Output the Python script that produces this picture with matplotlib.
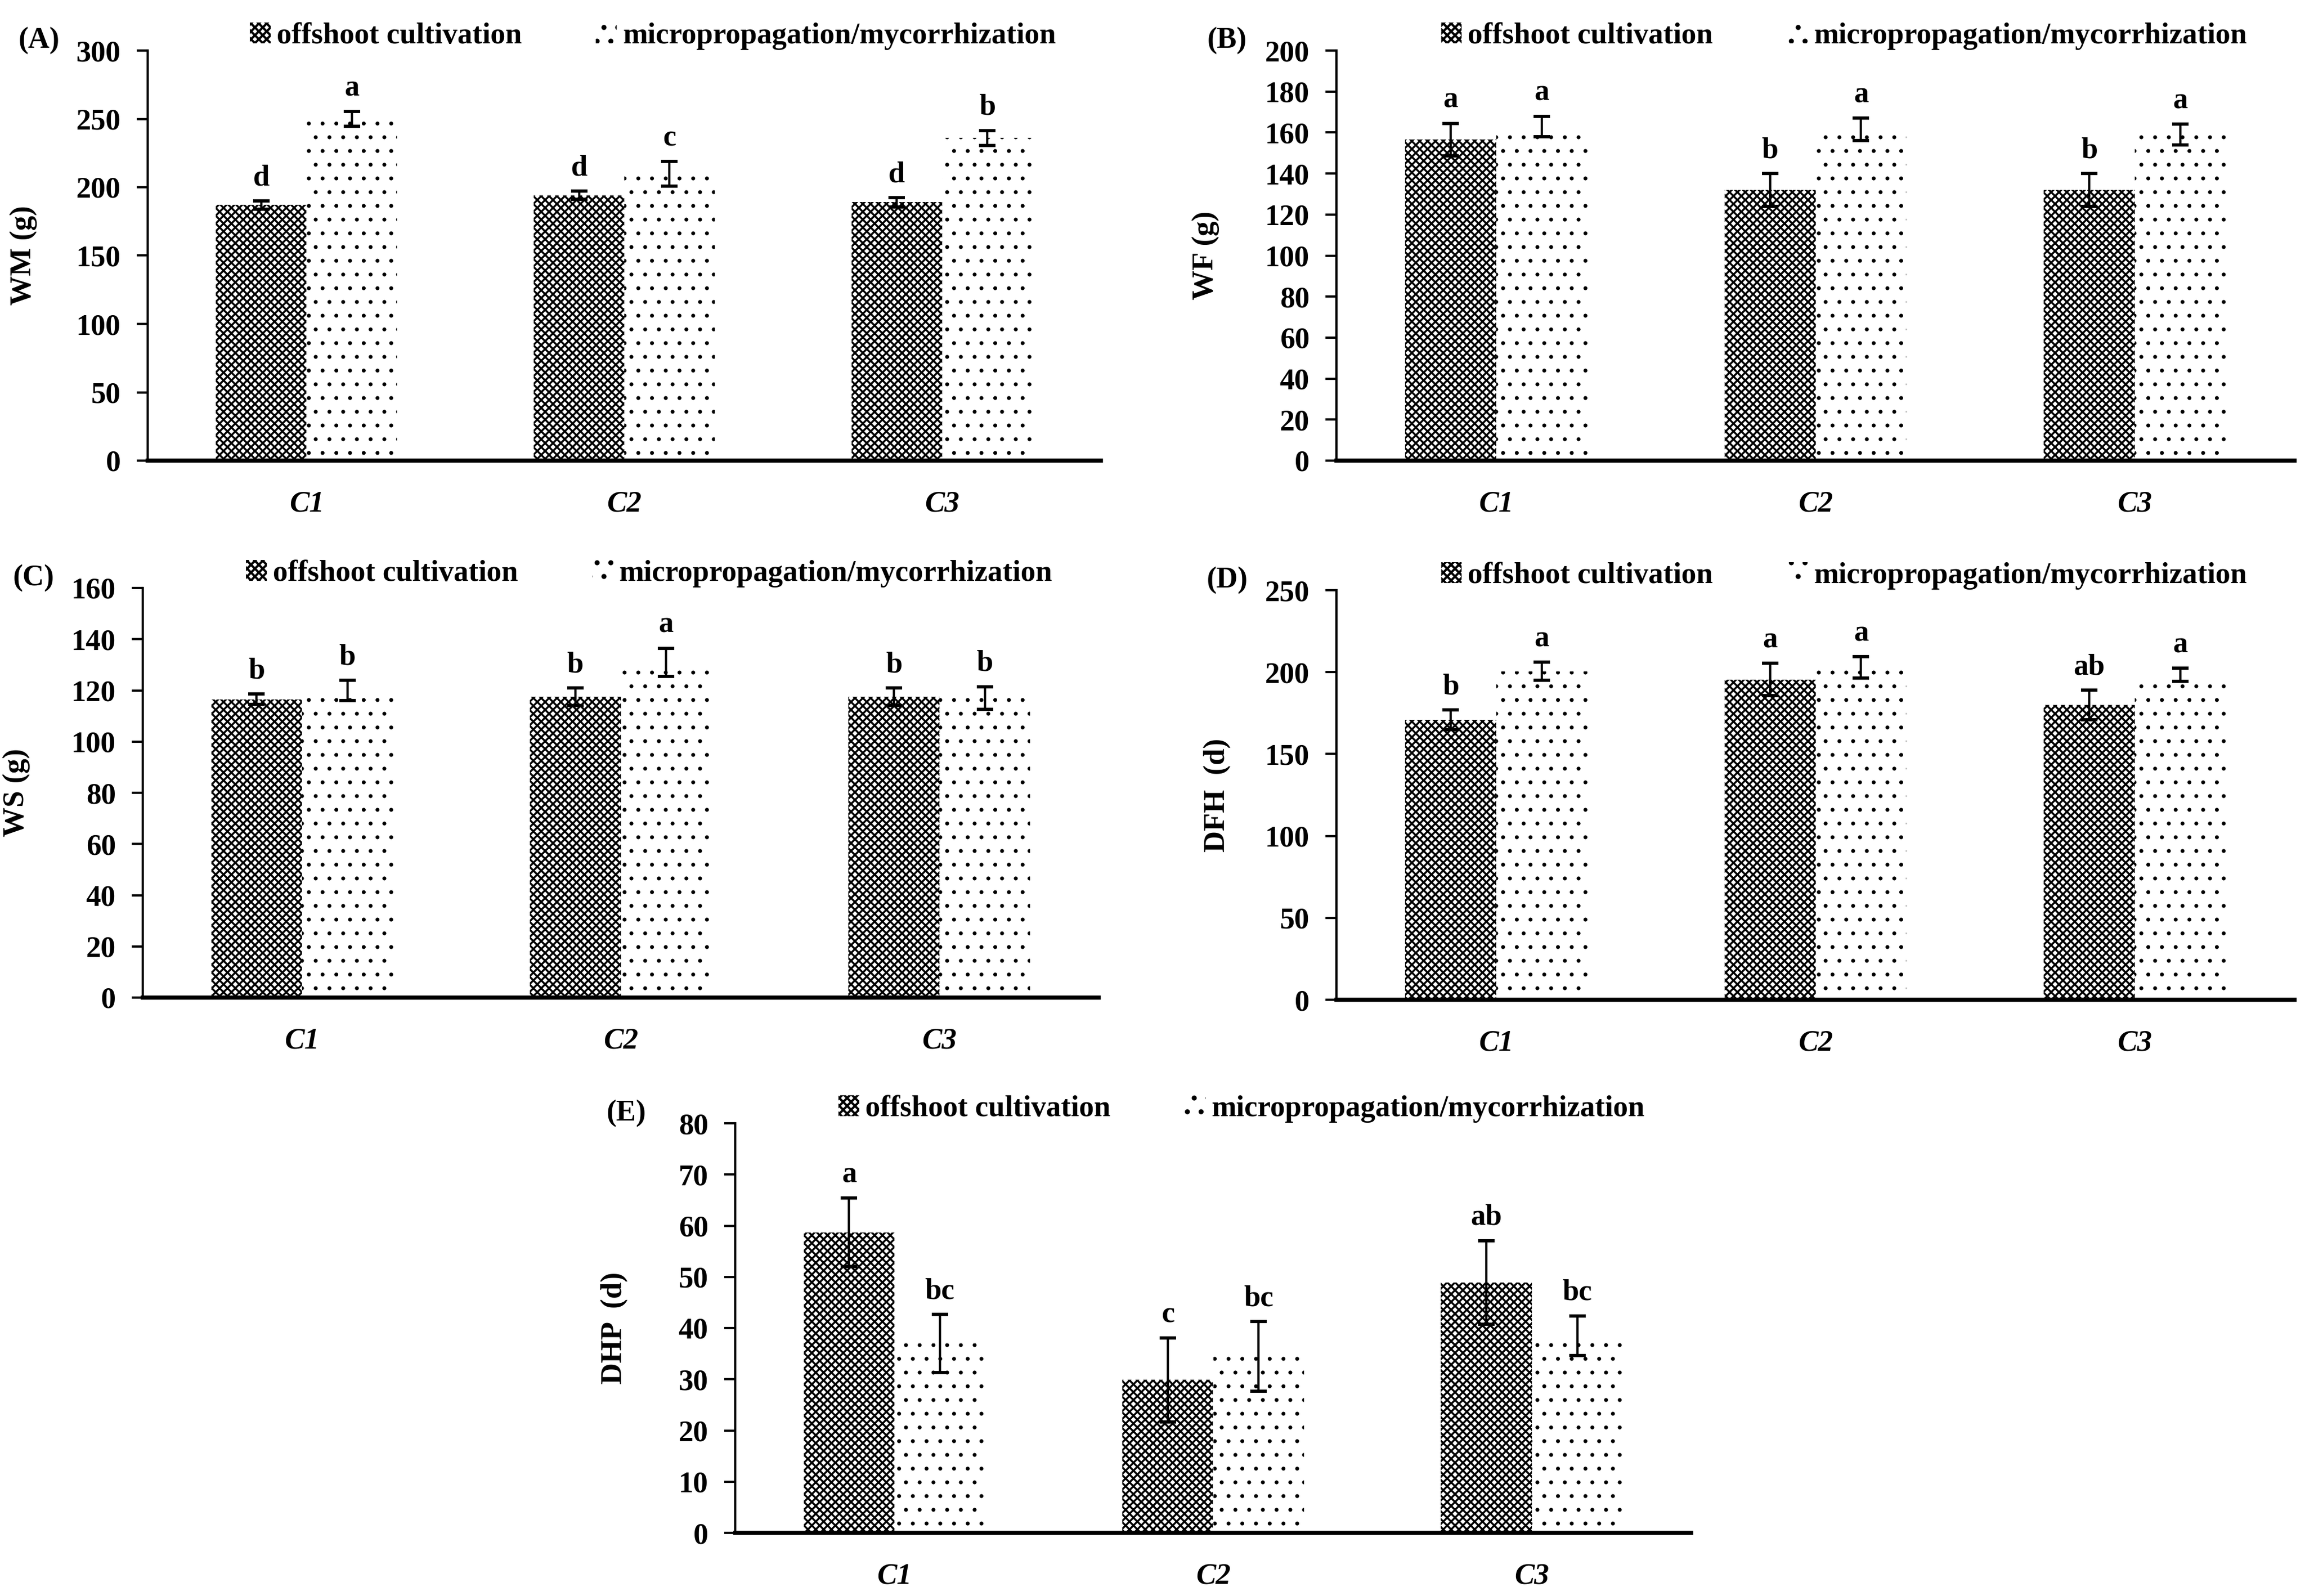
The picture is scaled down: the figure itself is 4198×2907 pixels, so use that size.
import matplotlib
matplotlib.use('Agg')
import matplotlib.pyplot as plt
import numpy as np

plt.rcParams['font.family'] = ['Liberation Serif', 'DejaVu Serif']
plt.rcParams['font.weight'] = 'bold'
plt.rcParams['font.size'] = 13

# Data
categories = ['C1', 'C2', 'C3']
series_names = ['offshoot cultivation', 'micropropagation/mycorrhization']

wm_off = [187, 194, 189]
wm_off_err = [3, 3, 3.3]
wm_mic = [250, 210, 236]
wm_mic_err = [5.5, 9, 5.5]
wm_off_let = ['d', 'd', 'd']
wm_mic_let = ['a', 'c', 'b']

wf_off = [156.5, 132, 132]
wf_off_err = [8, 8, 8]
wf_mic = [163, 161.5, 159]
wf_mic_err = [5, 5.5, 5]
wf_off_let = ['a', 'b', 'b']
wf_mic_let = ['a', 'a', 'a']

ws_off = [116.5, 117.5, 117.5]
ws_off_err = [2, 3.5, 3.5]
ws_mic = [120, 131, 117]
ws_mic_err = [4, 5.5, 4.5]
ws_off_let = ['b', 'b', 'b']
ws_mic_let = ['b', 'a', 'b']

dfh_off = [171, 195.5, 180]
dfh_off_err = [6, 10, 9]
dfh_mic = [200.5, 203, 198.5]
dfh_mic_err = [5.5, 6.5, 4]
dfh_off_let = ['b', 'a', 'ab']
dfh_mic_let = ['a', 'a', 'a']

dhp_off = [58.7, 29.9, 48.9]
dhp_off_err = [6.7, 8.2, 8.2]
dhp_mic = [37, 34.5, 38.5]
dhp_mic_err = [5.7, 6.8, 3.9]
dhp_off_let = ['a', 'c', 'ab']
dhp_mic_let = ['bc', 'bc', 'bc']

W, H = 4198, 2907
fig = plt.figure(figsize=(W / 300, H / 300), dpi=300)

def box(x0, x1, y0, y1):
    # pixel box -> figure fraction
    return [x0 / W, 1 - y1 / H, (x1 - x0) / W, (y1 - y0) / H]

panels = [
    ('(A)', 'WM (g)', box(269, 2005, 92, 839), (0, 300, 50), wm_off, wm_off_err, wm_mic, wm_mic_err, wm_off_let, wm_mic_let, -0.116),
    ('(B)', 'WF (g)', box(2434, 4179, 92, 839), (0, 200, 20), wf_off, wf_off_err, wf_mic, wf_mic_err, wf_off_let, wf_mic_let, -0.122),
    ('(C)', 'WS (g)', box(260, 2001, 1071, 1817), (0, 160, 20), ws_off, ws_off_err, ws_mic, ws_mic_err, ws_off_let, ws_mic_let, -0.118),
    ('(D)', 'DFH  (d)', box(2434, 4179, 1075, 1821), (0, 250, 50), dfh_off, dfh_off_err, dfh_mic, dfh_mic_err, dfh_off_let, dfh_mic_let, -0.11),
    ('(E)', 'DHP  (d)', box(1339, 3080, 2046, 2792), (0, 80, 10), dhp_off, dhp_off_err, dhp_mic, dhp_mic_err, dhp_off_let, dhp_mic_let, -0.112),
]

x = np.arange(len(categories))
w = 0.285

for tag, ylab, rect, (ymin, ymax, step), off, off_e, mic, mic_e, off_l, mic_l, lx in panels:
    ax = fig.add_axes(rect)
    b1 = ax.bar(x - w / 2, off, w, facecolor='white', edgecolor='black', linewidth=0,
                hatch='xxxxxxx', label=series_names[0])
    b2 = ax.bar(x + w / 2, mic, w, facecolor='white', edgecolor='black', linewidth=0,
                hatch='..', label=series_names[1])
    for p in b1:
        if hasattr(p, 'set_hatch_linewidth'):
            p.set_hatch_linewidth(0.85)
    for p in b2:
        if hasattr(p, 'set_hatch_linewidth'):
            p.set_hatch_linewidth(0.5)
    ax.errorbar(x - w / 2, off, yerr=off_e, fmt='none', ecolor='black',
                elinewidth=1.0, capsize=3.7, capthick=1.4)
    ax.errorbar(x + w / 2, mic, yerr=mic_e, fmt='none', ecolor='black',
                elinewidth=1.0, capsize=3.7, capthick=1.4)
    for i in range(len(categories)):
        ax.annotate(off_l[i], (x[i] - w / 2, off[i] + off_e[i]), xytext=(0, 4),
                    textcoords='offset points', ha='center', va='bottom',
                    fontsize=13, fontweight='bold')
        ax.annotate(mic_l[i], (x[i] + w / 2, mic[i] + mic_e[i]), xytext=(0, 4),
                    textcoords='offset points', ha='center', va='bottom',
                    fontsize=13, fontweight='bold')

    ax.set_xlim(-0.5, 2.5)
    ax.set_ylim(ymin, ymax)
    ax.set_yticks(np.arange(ymin, ymax + step / 2, step))
    ax.set_xticks(x)
    ax.set_xticklabels(categories, fontstyle='italic', fontweight='bold', fontsize=13)
    ax.tick_params(axis='x', length=0, pad=13)
    ax.tick_params(axis='y', direction='out', length=4.8, width=1.0, pad=7, labelsize=13)
    ax.spines['top'].set_visible(False)
    ax.spines['right'].set_visible(False)
    ax.spines['left'].set_linewidth(1.0)
    ax.spines['bottom'].set_linewidth(1.8)
    ax.set_ylabel(ylab, fontweight='bold', fontsize=13)
    ax.yaxis.set_label_coords(lx, 0.5)
    ax.text(-0.114, 1.024, tag, transform=ax.transAxes, ha='center', va='center',
            fontsize=13, fontweight='bold')
    ax.legend(loc='center', bbox_to_anchor=(0.53, 1.035), ncol=2, frameon=False,
              handlelength=0.7, handleheight=0.7, handletextpad=0.2,
              columnspacing=2.5, fontsize=13, borderaxespad=0)

fig.savefig('out.png', dpi=300, facecolor='white')
